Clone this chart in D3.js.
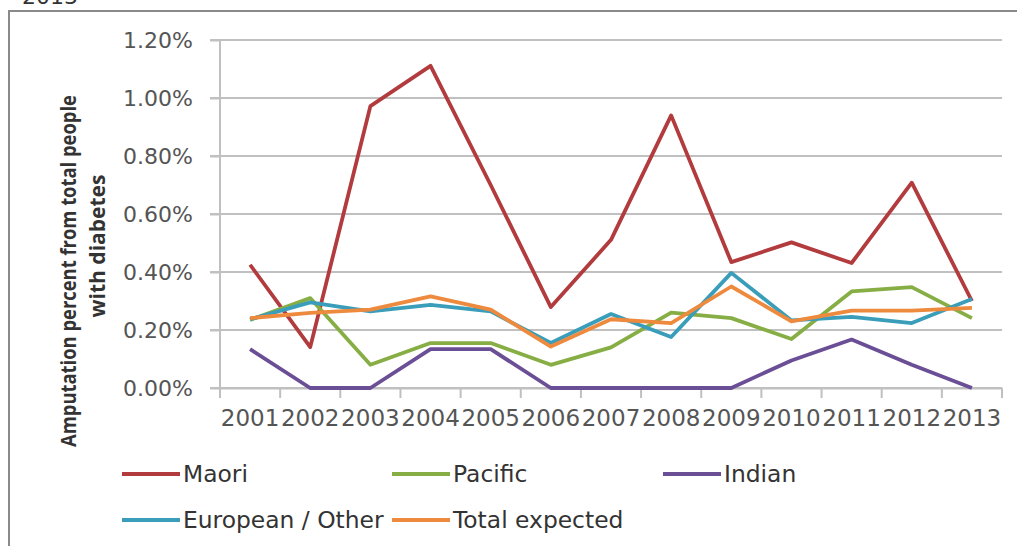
<!DOCTYPE html>
<html><head><meta charset="utf-8">
<script src="https://cdn.jsdelivr.net/npm/d3@7"></script>
<style>body{margin:0;background:#fff}svg{display:block}</style>
</head><body>
<svg id="c" width="1017" height="546"></svg>
<script>
const years = ["2001","2002","2003","2004","2005","2006","2007","2008","2009","2010","2011","2012","2013"];
const maori    = [0.425,0.141,0.972,1.111,0.700,0.279,0.511,0.940,0.434,0.502,0.431,0.708,0.300];
const pacific  = [0.235,0.310,0.080,0.155,0.155,0.080,0.140,0.260,0.241,0.169,0.333,0.348,0.241];
const indian   = [0.134,0.000,0.000,0.134,0.134,0.000,0.000,0.000,0.000,0.095,0.167,0.080,0.000];
const european = [0.237,0.295,0.264,0.287,0.264,0.155,0.255,0.176,0.397,0.233,0.245,0.224,0.307];
const totalExp = [0.241,0.259,0.270,0.316,0.270,0.143,0.237,0.224,0.350,0.230,0.267,0.267,0.276];
const yTicks = [0,0.2,0.4,0.6,0.8,1.0,1.2];
const seriesNames = ["Maori","Pacific","Indian","European / Other","Total expected"];
const seriesColors = ["#B23B3E","#86AE45","#6B4F96","#3A9DBA","#EE8A3E"];
const seriesData = [maori,pacific,indian,european,totalExp];
const yTitle = ["Amputation percent from total people","with diabetes"];

const svg = d3.select("#c");
const L = 220, R = 1002, T = 40, B = 388;
const x = d3.scaleBand().domain(years).range([L,R]);
const y = d3.scaleLinear().domain([0,1.2]).range([B,T]);
const cx = d => x(d) + x.bandwidth()/2;

// frame
svg.append("text").attr("x",22).attr("y",4).attr("font-family","DejaVu Sans").attr("font-size",22).attr("fill","#333").text("2013");
svg.append("line").attr("x1",8).attr("x2",1017).attr("y1",11).attr("y2",11).attr("stroke","#8a8a8a").attr("stroke-width",2);
svg.append("line").attr("x1",9).attr("x2",9).attr("y1",10).attr("y2",546).attr("stroke","#8a8a8a").attr("stroke-width",2);

// grid
svg.append("g").selectAll("line").data(yTicks).join("line")
  .attr("x1",L-10).attr("x2",R).attr("y1",d=>y(d)).attr("y2",d=>y(d))
  .attr("stroke","#c0c0c0").attr("stroke-width",2);

// y axis
const ya = svg.append("g").attr("transform",`translate(${L},0)`)
  .call(d3.axisLeft(y).tickValues(yTicks).tickFormat(d=>d.toFixed(2)+"%").tickSize(10).tickPadding(17));
ya.select(".domain").attr("stroke","#c0c0c0").attr("stroke-width",2).attr("d",`M0,${T}V${B}`);
ya.selectAll(".tick line").attr("stroke","#c0c0c0").attr("stroke-width",2);
ya.selectAll("text").attr("font-family","DejaVu Sans").attr("font-size",22).attr("fill","#555");

// x axis
const xa = svg.append("g").attr("transform",`translate(0,${B})`)
  .call(d3.axisBottom(x).tickSize(0).tickPadding(22));
xa.select(".domain").attr("stroke","#c0c0c0").attr("stroke-width",2);
xa.selectAll("text").attr("font-family","DejaVu Sans").attr("font-size",23).attr("fill","#555");
svg.append("g").selectAll("line").data(years.map(d=>x(d)).concat([R])).join("line")
  .attr("x1",d=>d).attr("x2",d=>d).attr("y1",B).attr("y2",B+10)
  .attr("stroke","#c0c0c0").attr("stroke-width",2);

// y title
svg.append("text").attr("transform","translate(76,271) rotate(-90)").attr("text-anchor","middle")
  .attr("font-family","Open Sans").attr("font-weight","bold").attr("font-size",21).attr("fill","#333")
  .attr("textLength",352).attr("lengthAdjust","spacingAndGlyphs").text(yTitle[0]);
svg.append("text").attr("transform","translate(105,246) rotate(-90)").attr("text-anchor","middle")
  .attr("font-family","Open Sans").attr("font-weight","bold").attr("font-size",21).attr("fill","#333")
  .attr("textLength",143).attr("lengthAdjust","spacingAndGlyphs").text(yTitle[1]);

// lines
const line = d3.line().x((d,i)=>cx(years[i])).y(d=>y(d));
svg.append("g").selectAll("path").data(seriesData).join("path")
  .attr("d",line).attr("fill","none").attr("stroke",(d,i)=>seriesColors[i])
  .attr("stroke-width",3.8).attr("stroke-linejoin","round");

// legend
const legPos = [[122,474],[392,474],[663,474],[122,520],[392,520]];
const lg = svg.append("g").selectAll("g").data(seriesNames).join("g")
  .attr("transform",(d,i)=>`translate(${legPos[i][0]},${legPos[i][1]})`);
lg.append("line").attr("x1",0).attr("x2",58).attr("stroke",(d,i)=>seriesColors[i]).attr("stroke-width",3.8);
lg.append("text").attr("x",61).attr("y",8).attr("font-family","DejaVu Sans").attr("font-size",23.4).attr("fill","#333").text(d=>d);
</script>
</body></html>
